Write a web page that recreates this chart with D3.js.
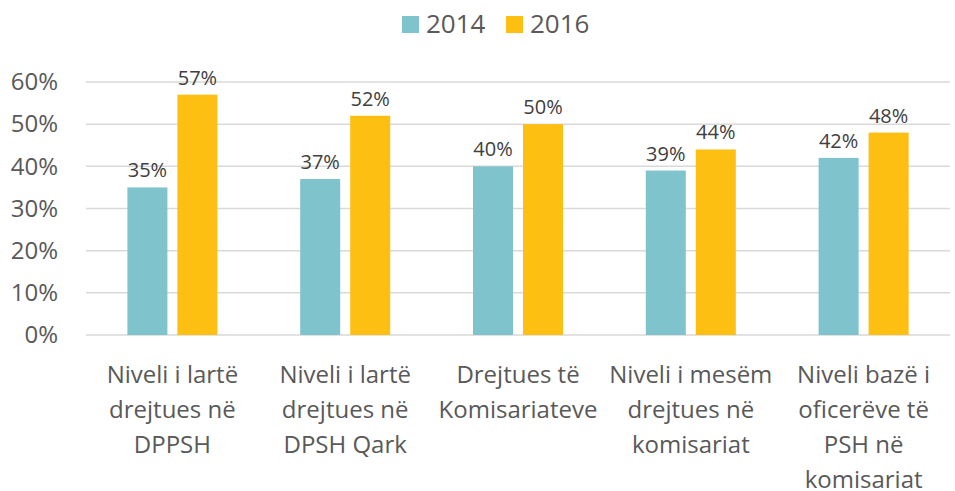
<!DOCTYPE html>
<html>
<head>
<meta charset="utf-8">
<script src="https://cdn.jsdelivr.net/npm/d3@7"></script>
<style>
  body { margin: 0; background: #fff; }
  text { font-family: "Open Sans", sans-serif; }
</style>
</head>
<body>
<div id="chart"></div>
<script>
// chart data
const categories = [
    ['Niveli i lartë', 'drejtues në', 'DPPSH'],
    ['Niveli i lartë', 'drejtues në', 'DPSH Qark'],
    ['Drejtues të', 'Komisariateve'],
    ['Niveli i mesëm', 'drejtues në', 'komisariat'],
    ['Niveli bazë i', 'oficerëve të', 'PSH në', 'komisariat']
];
const seriesNames = ['2014', '2016'];
const values2014 = [0.35, 0.37, 0.40, 0.39, 0.42];
const values2016 = [0.57, 0.52, 0.50, 0.44, 0.48];
const yTicks = [0, 0.1, 0.2, 0.3, 0.4, 0.5, 0.6];
const colors = ['#7fc3cc', '#fdbf11'];

const dimensions = {
    width: 955,
    height: 491,
    left: 86,
    right: 950,
    top: 82,
    bottom: 335
};

const svg = d3.select('#chart')
    .append('svg')
    .attr('width', dimensions.width)
    .attr('height', dimensions.height);

const xScale = d3.scaleBand()
    .domain(d3.range(categories.length))
    .range([dimensions.left, dimensions.right]);

// two bars inside each category
const xInner = d3.scaleBand()
    .domain(seriesNames)
    .range([-45, 45])
    .paddingInner(0.2)
    .paddingOuter(0);

const yScale = d3.scaleLinear()
    .domain([0, 0.6])
    .range([dimensions.bottom, dimensions.top]);

// gridlines
svg.append('g')
    .selectAll('line')
    .data(yTicks)
    .join('line')
    .attr('x1', dimensions.left)
    .attr('x2', dimensions.right)
    .attr('y1', d => yScale(d))
    .attr('y2', d => yScale(d))
    .attr('stroke', '#d9d9d9')
    .attr('stroke-width', 1.5);

// y axis labels
const yAxis = d3.axisLeft(yScale)
    .tickValues(yTicks)
    .tickFormat(d3.format('.0%'))
    .tickSize(0)
    .tickPadding(0);

svg.append('g')
    .attr('transform', `translate(58, 0)`)
    .call(yAxis)
    .call(g => g.select('.domain').remove())
    .selectAll('text')
    .attr('font-size', 24)
    .attr('font-family', '"Open Sans", sans-serif')
    .attr('fill', '#595959');

const series = [values2014, values2016];

const groups = svg.append('g')
    .selectAll('g')
    .data(categories)
    .join('g')
    .attr('transform', (d, i) => `translate(${xScale(i) + xScale.bandwidth() / 2}, 0)`);

seriesNames.forEach((name, s) => {
    groups.append('rect')
        .attr('x', xInner(name))
        .attr('width', xInner.bandwidth())
        .attr('y', (d, i) => yScale(series[s][i]))
        .attr('height', (d, i) => dimensions.bottom - yScale(series[s][i]))
        .attr('fill', colors[s]);

    groups.append('text')
        .attr('x', xInner(name) + xInner.bandwidth() / 2)
        .attr('y', (d, i) => yScale(series[s][i]) - 10)
        .attr('text-anchor', 'middle')
        .attr('font-size', 20)
        .attr('fill', '#404040')
        .text((d, i) => d3.format('.0%')(series[s][i]));
});

// category labels
groups.append('text')
    .attr('text-anchor', 'middle')
    .attr('font-size', 24)
    .attr('fill', '#595959')
    .selectAll('tspan')
    .data(d => d)
    .join('tspan')
    .attr('x', 0)
    .attr('y', (d, i) => 383 + i * 35)
    .text(d => d);

// legend
const legend = svg.append('g')
    .selectAll('g')
    .data(seriesNames)
    .join('g')
    .attr('transform', (d, i) => `translate(${402 + i * 104}, 16)`);

legend.append('rect')
    .attr('width', 17)
    .attr('height', 17)
    .attr('fill', (d, i) => colors[i]);

legend.append('text')
    .attr('x', 24)
    .attr('y', 17)
    .attr('font-size', 26)
    .attr('fill', '#595959')
    .text(d => d);
</script>
</body>
</html>
